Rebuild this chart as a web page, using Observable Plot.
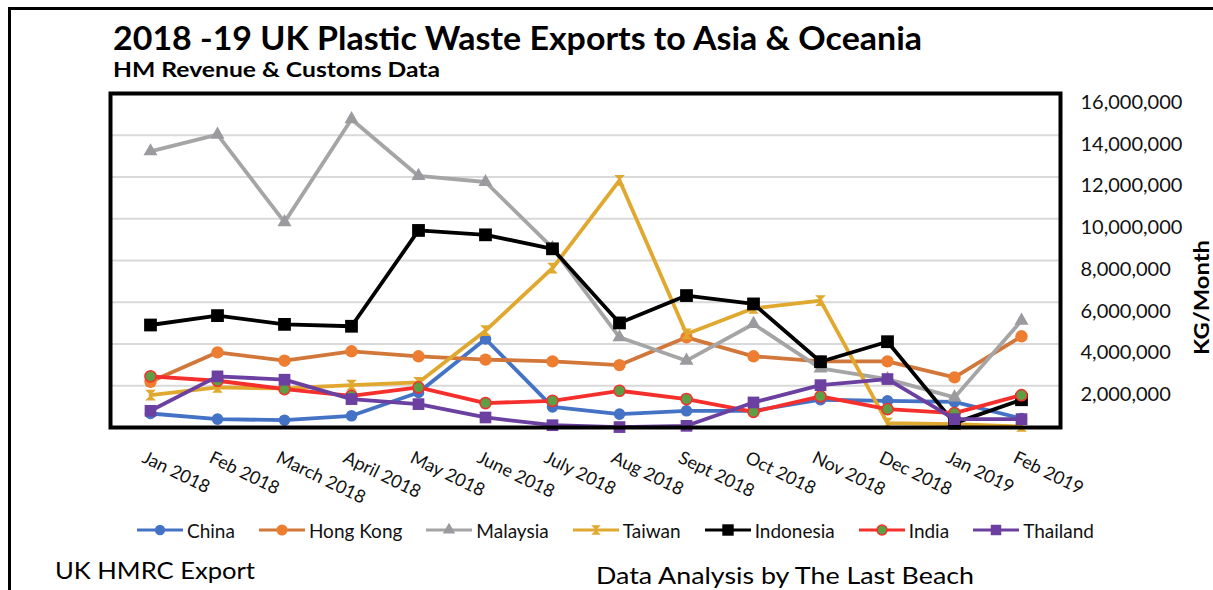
<!DOCTYPE html>
<html><head><meta charset="utf-8">
<script src="https://cdn.jsdelivr.net/npm/d3@7"></script>
<script src="https://cdn.jsdelivr.net/npm/@observablehq/plot@0.6"></script>
<style>
body{margin:0;background:#fff;width:1213px;height:590px;overflow:hidden;position:relative;font-family:Lato,"Open Sans",sans-serif;}
#outer{position:absolute;left:8px;top:7px;width:1300px;height:700px;border-left:3px solid #000;border-top:3px solid #000;}
#chart{position:absolute;left:0;top:0;}
#overlay{position:absolute;left:0;top:0;}
#legend{position:absolute;left:137px;top:519px;width:957px;height:22px;display:flex;justify-content:space-between;align-items:center;font-size:19px;color:#111;}
#legend .item{display:flex;align-items:center;gap:4px;white-space:nowrap;}
</style></head><body>
<div id="outer"></div>
<div id="chart"></div>
<svg id="overlay" width="1213" height="590"></svg>
<div id="legend"></div>
<script>
const months = ["Jan 2018","Feb 2018","March 2018","April 2018","May 2018","June 2018","July 2018","Aug 2018","Sept 2018","Oct 2018","Nov 2018","Dec 2018","Jan 2019","Feb 2019"];
const seriesNames = ["China","Hong Kong","Malaysia","Taiwan","Indonesia","India","Thailand"];
const china     = [670000, 400000, 350000, 560000, 1680000, 4240000, 990000, 640000, 800000, 800000, 1330000, 1280000, 1230000, 430000];
const hongKong  = [2190000, 3600000, 3200000, 3650000, 3410000, 3250000, 3170000, 2990000, 4320000, 3410000, 3170000, 3170000, 2400000, 4370000];
const malaysia  = [13230000, 14030000, 9840000, 14770000, 12050000, 11760000, 8600000, 4320000, 3200000, 4960000, 2830000, 2320000, 1440000, 5120000];
const taiwan    = [1550000, 1920000, 1870000, 2030000, 2160000, 4640000, 7630000, 11840000, 4480000, 5710000, 6080000, 210000, 160000, 50000];
const indonesia = [4910000, 5360000, 4940000, 4850000, 9440000, 9230000, 8560000, 5010000, 6320000, 5920000, 3150000, 4110000, 210000, 1330000];
const india     = [2450000, 2240000, 1840000, 1520000, 1920000, 1170000, 1280000, 1760000, 1360000, 750000, 1490000, 880000, 690000, 1550000];
const thailand  = [800000, 2450000, 2290000, 1360000, 1120000, 480000, 110000, 20000, 80000, 1200000, 2030000, 2320000, 400000, 400000];
const yTicks = [2000000, 4000000, 6000000, 8000000, 10000000, 12000000, 14000000, 16000000];

const hourglass = {draw(ctx, size){ const w = Math.sqrt(size)*0.55; ctx.moveTo(-w,-w); ctx.lineTo(w,-w); ctx.lineTo(-w,w); ctx.lineTo(w,w); ctx.closePath(); }};

const styles = [
  {line:"#4472C4", fill:"#4472C4", stroke:"#4472C4", symbol:"circle", r:5.8, sw:0},
  {line:"#D2773A", fill:"#ED7D31", stroke:"#ED7D31", symbol:"circle", r:6.2, sw:0},
  {line:"#A5A5A5", fill:"#9B9B9F", stroke:"#9B9B9F", symbol:"triangle", r:5.2, sw:0},
  {line:"#E0A82E", fill:"#E0A82E", stroke:"#E0A82E", symbol:hourglass, r:5.5, sw:0},
  {line:"#000000", fill:"#000000", stroke:"#000000", symbol:"square", r:7.2, sw:0},
  {line:"#F5302C", fill:"#5E9E44", stroke:"#F5302C", symbol:"circle", r:5.6, sw:1.5},
  {line:"#6B40A0", fill:"#6B40A0", stroke:"#6B40A0", symbol:"square", r:6.6, sw:0}
];
const allValues = [china, hongKong, malaysia, taiwan, indonesia, india, thailand];
const table = seriesNames.map((name, i) => months.map((m, j) => ({series: name, month: m, value: allValues[i][j]})));

const marks = [
  Plot.gridY(yTicks.slice(0, -1), {stroke: "#d9d9d9", strokeOpacity: 1, strokeWidth: 2}),
];
table.forEach((rows, i) => {
  const s = styles[i];
  marks.push(Plot.line(rows, {x: "month", y: "value", stroke: s.line, strokeWidth: 3.8, strokeLinejoin: "round"}));
  marks.push(Plot.dot(rows, {x: "month", y: "value", symbol: () => s.symbol, r: s.r, fill: s.fill, stroke: s.stroke, strokeWidth: s.sw}));
});
marks.push(Plot.frame({stroke: "#000", strokeWidth: 4}));
marks.push(Plot.axisY(yTicks, {anchor: "right", tickSize: 0, tickPadding: 20, dy: 9, tickFormat: d3.format(","), fontSize: 20, fill: "#111", label: null}));
marks.push(Plot.axisX({anchor: "bottom", tickSize: 0, tickPadding: 29, dx: -7, tickRotate: 26, fontSize: 18, fill: "#111", label: null}));

const chart = Plot.plot({
  width: 1213, height: 520,
  marginLeft: 110, marginRight: 153, marginTop: 93, marginBottom: 93,
  style: {fontFamily: "Lato, 'Open Sans', sans-serif", background: "transparent", overflow: "visible"},
  x: {type: "point", domain: months, padding: 0.5},
  y: {domain: [0, 16000000]},
  symbol: {type: "identity"},
  marks
});
document.getElementById("chart").appendChild(chart);

// overlay texts
const ov = d3.select("#overlay");
function addText(txt, x, y, size, weight, len, rot) {
  const t = ov.append("text").attr("x", x).attr("y", y).attr("font-size", size).attr("font-weight", weight)
    .attr("font-family", "Lato, 'Open Sans', sans-serif").attr("fill", "#000").text(txt);
  if (len) t.attr("textLength", len).attr("lengthAdjust", "spacingAndGlyphs");
  if (rot) t.attr("transform", rot);
  return t;
}
addText("2018 -19 UK Plastic Waste Exports to Asia & Oceania", 113, 50, 32, "bold", 809);
addText("HM Revenue & Customs Data", 113, 77, 21, "bold", 327);
addText("UK HMRC Export", 55, 579, 24, "normal", 200);
addText("Data Analysis by The Last Beach", 596, 584, 24, "normal", 378);
addText("KG/Month", 0, 0, 21, "bold", 115, "translate(1209,355) rotate(-90)");

// legend
const lg = d3.select("#legend");
seriesNames.forEach((name, i) => {
  const s = styles[i];
  const it = lg.append("div").attr("class", "item");
  const sv = it.append("svg").attr("width", 46).attr("height", 16);
  sv.append("line").attr("x1", 0).attr("x2", 46).attr("y1", 8).attr("y2", 8).attr("stroke", s.line).attr("stroke-width", 3);
  const sym = typeof s.symbol === "string" ? ({circle: d3.symbolCircle, triangle: d3.symbolTriangle, square: d3.symbolSquare})[s.symbol] : s.symbol;
  sv.append("path").attr("transform", "translate(23,8)").attr("d", d3.symbol(sym, Math.PI * s.r * s.r * 0.8)())
    .attr("fill", s.fill).attr("stroke", s.stroke).attr("stroke-width", s.sw);
  it.append("span").text(name);
});
</script>
</body></html>
